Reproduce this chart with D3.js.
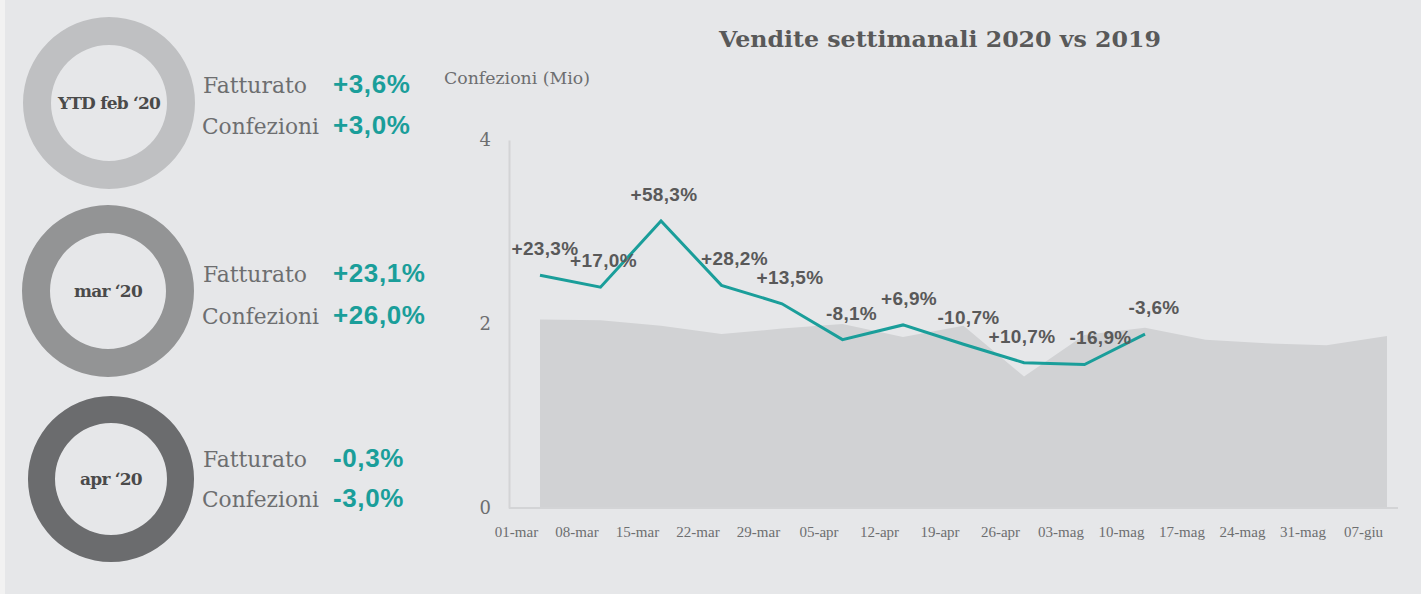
<!DOCTYPE html>
<meta charset="utf-8">
<style>
body { margin: 0; background: #f2f2f2; }
.serif { font-family: "DejaVu Serif", serif; }
.num { font-family: "Liberation Sans", Arial, sans-serif; font-weight: bold; }
</style>
<svg width="1421" height="594"></svg>
<script src="https://d3js.org/d3.v7.min.js"></script>
<script>

// weeks on the x axis
var weeks = ["01-mar", "08-mar", "15-mar", "22-mar", "29-mar", "05-apr", "12-apr", "19-apr",
             "26-apr", "03-mag", "10-mag", "17-mag", "24-mag", "31-mag", "07-giu"];

// packs sold, millions
var sales2019 = [2.05, 2.04, 1.98, 1.89, 1.95, 2.00, 1.86, 1.98, 1.43, 1.88, 1.96, 1.83, 1.79, 1.77, 1.87];
var sales2020 = [2.53, 2.40, 3.12, 2.42, 2.22, 1.83, 1.99, 1.78, 1.58, 1.56, 1.89];
var changePct = [23.3, 17.0, 58.3, 28.2, 13.5, -8.1, 6.9, -10.7, 10.7, -16.9, -3.6];

var yTicks = [0, 2, 4];

// left panel
var periods = ["YTD feb \u201820", "mar \u201820", "apr \u201820"];
var fatturato = [3.6, 23.1, -0.3];
var confezioni = [3.0, 26.0, -3.0];

var teal = "#1a9e9a",
    grey = "#595959";

var svg = d3.select("svg");

svg.append("rect")
    .attr("x", 5).attr("y", 0)
    .attr("width", 1416).attr("height", 594)
    .attr("fill", "#e6e7e9");

var fmt = function(v) {
  return (v < 0 ? "-" : "+") + d3.format(".1f")(Math.abs(v)).replace(".", ",") + "%";
};

// ---- rings on the left
var ringColors = ["#bfc0c2", "#939495", "#6b6c6e"],
    ringCx = [109, 108, 111],
    ringCy = [103, 291, 479],
    ringR = [[58, 86], [58, 86], [56, 83]];

var blocks = svg.selectAll(".block")
  .data(periods)
  .enter().append("g")
    .attr("class", "block")
    .attr("transform", function(d, i) { return "translate(0," + ringCy[i] + ")"; });

blocks.append("path")
    .attr("transform", function(d, i) { return "translate(" + ringCx[i] + ",0)"; })
    .attr("d", function(d, i) {
      return d3.arc()
          .innerRadius(ringR[i][0])
          .outerRadius(ringR[i][1])
          .startAngle(0)
          .endAngle(2 * Math.PI)();
    })
    .attr("fill", function(d, i) { return ringColors[i]; });

blocks.append("text")
    .attr("class", "serif")
    .attr("x", function(d, i) { return ringCx[i]; })
    .attr("dy", "0.35em")
    .attr("text-anchor", "middle")
    .style("font-size", "17px")
    .style("font-weight", "bold")
    .style("letter-spacing", "-0.8px")
    .attr("fill", "#4a4a4a")
    .text(function(d) { return d; });

var rowY = [[-10, 31], [-9, 33], [-12, 28]];

blocks.append("text")
    .attr("class", "serif")
    .attr("x", 203)
    .attr("y", function(d, i) { return rowY[i][0]; })
    .attr("textLength", 104).attr("lengthAdjust", "spacingAndGlyphs")
    .style("font-size", "22px")
    .style("font-weight", "200")
    .attr("fill", "#6d6e70")
    .text("Fatturato");

blocks.append("text")
    .attr("class", "serif")
    .attr("x", 202)
    .attr("y", function(d, i) { return rowY[i][1]; })
    .attr("textLength", 117).attr("lengthAdjust", "spacingAndGlyphs")
    .style("font-size", "22px")
    .style("font-weight", "200")
    .attr("fill", "#6d6e70")
    .text("Confezioni");

blocks.append("text")
    .attr("class", "num")
    .attr("x", 333)
    .attr("y", function(d, i) { return rowY[i][0]; })
    .style("font-size", "26px")
    .style("letter-spacing", "0.6px")
    .attr("fill", teal)
    .text(function(d, i) { return fmt(fatturato[i]); });

blocks.append("text")
    .attr("class", "num")
    .attr("x", 333)
    .attr("y", function(d, i) { return rowY[i][1]; })
    .style("font-size", "26px")
    .style("letter-spacing", "0.6px")
    .attr("fill", teal)
    .text(function(d, i) { return fmt(confezioni[i]); });

// ---- weekly chart
var x = d3.scalePoint()
    .domain(weeks)
    .range([540, 1387]);

var y = d3.scaleLinear()
    .domain([0, 4])
    .range([508, 140]);

svg.append("text")
    .attr("class", "serif")
    .attr("x", 940).attr("y", 47)
    .attr("text-anchor", "middle")
    .attr("textLength", 442).attr("lengthAdjust", "spacingAndGlyphs")
    .style("font-size", "23px")
    .style("font-weight", "bold")
    .attr("fill", grey)
    .text("Vendite settimanali 2020 vs 2019");

svg.append("text")
    .attr("class", "serif")
    .attr("x", 444).attr("y", 84)
    .attr("textLength", 146).attr("lengthAdjust", "spacingAndGlyphs")
    .style("font-size", "17px")
    .attr("fill", "#6d6e70")
    .text("Confezioni (Mio)");

var area = d3.area()
    .x(function(d, i) { return x(weeks[i]); })
    .y0(y(0))
    .y1(function(d) { return y(d); });

svg.append("path")
    .datum(sales2019)
    .attr("d", area)
    .attr("fill", "#d1d2d4");

// axes
var yAxis = svg.append("g")
    .attr("transform", "translate(509,0)")
    .call(d3.axisLeft(y).tickValues(yTicks).tickFormat(d3.format("d")).tickSize(0).tickPadding(18));
yAxis.select(".domain").attr("stroke", "#d3d4d6").attr("stroke-width", 2);
yAxis.selectAll("text")
    .attr("class", "serif")
    .style("font-size", "18px")
    .style("font-weight", "200")
    .attr("fill", "#6d6e70");

var xAxis = svg.append("g")
    .attr("transform", "translate(0," + y(0) + ")")
    .call(d3.axisBottom(x).tickSize(0).tickPadding(18));
xAxis.select(".domain")
    .attr("d", "M509,0H1398")
    .attr("stroke", "#d3d4d6").attr("stroke-width", 2);
xAxis.selectAll("text")
    .attr("dx", -24)
    .attr("font-family", "Liberation Serif, serif")
    .style("font-size", "15px")
    .attr("fill", "#6d6e70");

var line = d3.line()
    .x(function(d, i) { return x(weeks[i]); })
    .y(function(d) { return y(d); });

svg.append("path")
    .datum(sales2020)
    .attr("d", line)
    .attr("fill", "none")
    .attr("stroke", teal)
    .attr("stroke-width", 3)
    .attr("stroke-linejoin", "miter");

var nudge = [5, 3, 3, 13, 8, 9, 6, 5, -2, 16, 9];

svg.selectAll(".lbl")
  .data(changePct)
  .enter().append("text")
    .attr("class", "lbl num")
    .attr("x", function(d, i) { return x(weeks[i]) + nudge[i]; })
    .attr("y", function(d, i) { return y(sales2020[i]) - 20; })
    .attr("text-anchor", "middle")
    .style("font-size", "19px")
    .style("letter-spacing", "0.3px")
    .attr("fill", grey)
    .text(fmt);

</script>
